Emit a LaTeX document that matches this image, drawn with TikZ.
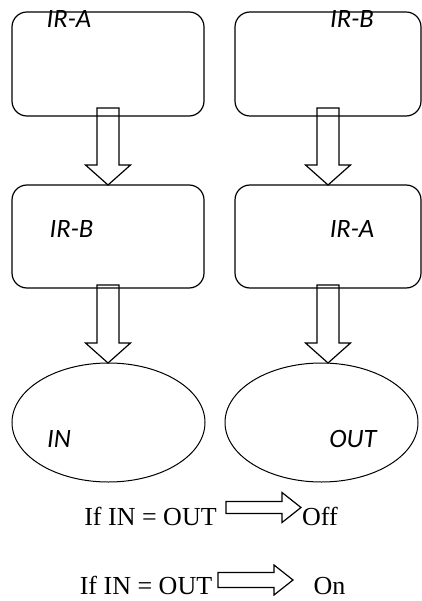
\documentclass[tikz,border=0pt]{standalone}
\usepackage{fontspec}
\setmainfont{Liberation Serif}
\newfontfamily\irfont{Carlito}
\usepackage{tikz}
\usetikzlibrary{positioning, shapes, calc}

\tikzset{
  irbox/.style={draw, line width=1.2pt, rounded corners=15pt, minimum width=192pt, minimum height=104pt, inner sep=0pt, outer sep=0pt},
  outcome/.style={draw, ellipse, line width=1pt, minimum width=193pt, minimum height=119pt, inner sep=0pt, outer sep=0pt},
  irlabel/.style={font=\irfont\itshape\fontsize{26.5}{26.5}\selectfont, anchor=base, inner sep=0pt},
  rulelabel/.style={font=\fontsize{26}{26}\selectfont, anchor=base, inner sep=0pt},
  blk/.style={draw, line width=1.2pt, line join=miter}
}

% hollow arrow going down from box #1 to node #2, shaft starts #3 inside #1
\newcommand\blkdown[3]{%
  \draw[blk] ($(#1.south)+(-11,-#3)$) -- ($(#1.south |- #2.north)+(-11,-20)$) -- ++(-11.5,0)
    -- (#1.south |- #2.north) -- ++(22.5,-20) -- ++(-11.5,0) -- ($(#1.south)+(11,-#3)$) -- cycle;}
% hollow arrow going right from #1 to #2, shaft half #3, head half #4
\newcommand\blkright[4]{%
  \draw[blk] ($(#1)+(0,-#3)$) -- ($(#2)+(-19,-#3)$) -- ++(0,#3-#4)
    -- (#2) -- ++(-19,#4) -- ++(0,#3-#4) -- ($(#1)+(0,#3)$) -- cycle;}

\begin{document}
\begin{tikzpicture}[x=1pt, y=-1pt]
  \useasboundingbox (0,0) rectangle (421,601);

  % boxes
  \node[irbox] (ra1) at (108,64) {};
  \node[irbox, minimum width=186pt] (rb1) at (328,64) {};
  \node[irbox, minimum height=103pt] (rb2) at (108,236.5) {};
  \node[irbox, minimum width=186pt, minimum height=103pt] (ra2) at (328,236.5) {};

  % result ellipses
  \node[outcome] (inn) at (108.5,422.5) {};
  \node[outcome] (outn) at (321.5,422.5) {};

  % labels
  \foreach \n/\x/\y/\t in {la1/69/28/IR-A, lb1/352/28/IR-B, lb2/71.5/237/IR-B,
      la2/352/237/IR-A, lin/59/447/IN, lout/353/447/OUT}
    \node[irlabel] (\n) at (\x,\y) {\t};

  % down arrows
  \blkdown{ra1}{rb2}{8}
  \blkdown{rb1}{ra2}{8}
  \blkdown{rb2}{inn}{3}
  \blkdown{ra2}{outn}{3}

  % rules
  \node[rulelabel] (if1) at (150.5,525) {If IN = OUT};
  \node[rulelabel] (off) at (320,525) {Off};
  \node[rulelabel] (if2) at (146,594) {If IN = OUT};
  \node[rulelabel] (on) at (329.5,594) {On};

  \coordinate (t1) at (226,507.5);
  \coordinate (h1) at (301,507.5);
  \coordinate (t2) at (218,580);
  \coordinate (h2) at (293,580);
  \blkright{t1}{h1}{6}{15}
  \blkright{t2}{h2}{7.5}{15}
\end{tikzpicture}
\end{document}
